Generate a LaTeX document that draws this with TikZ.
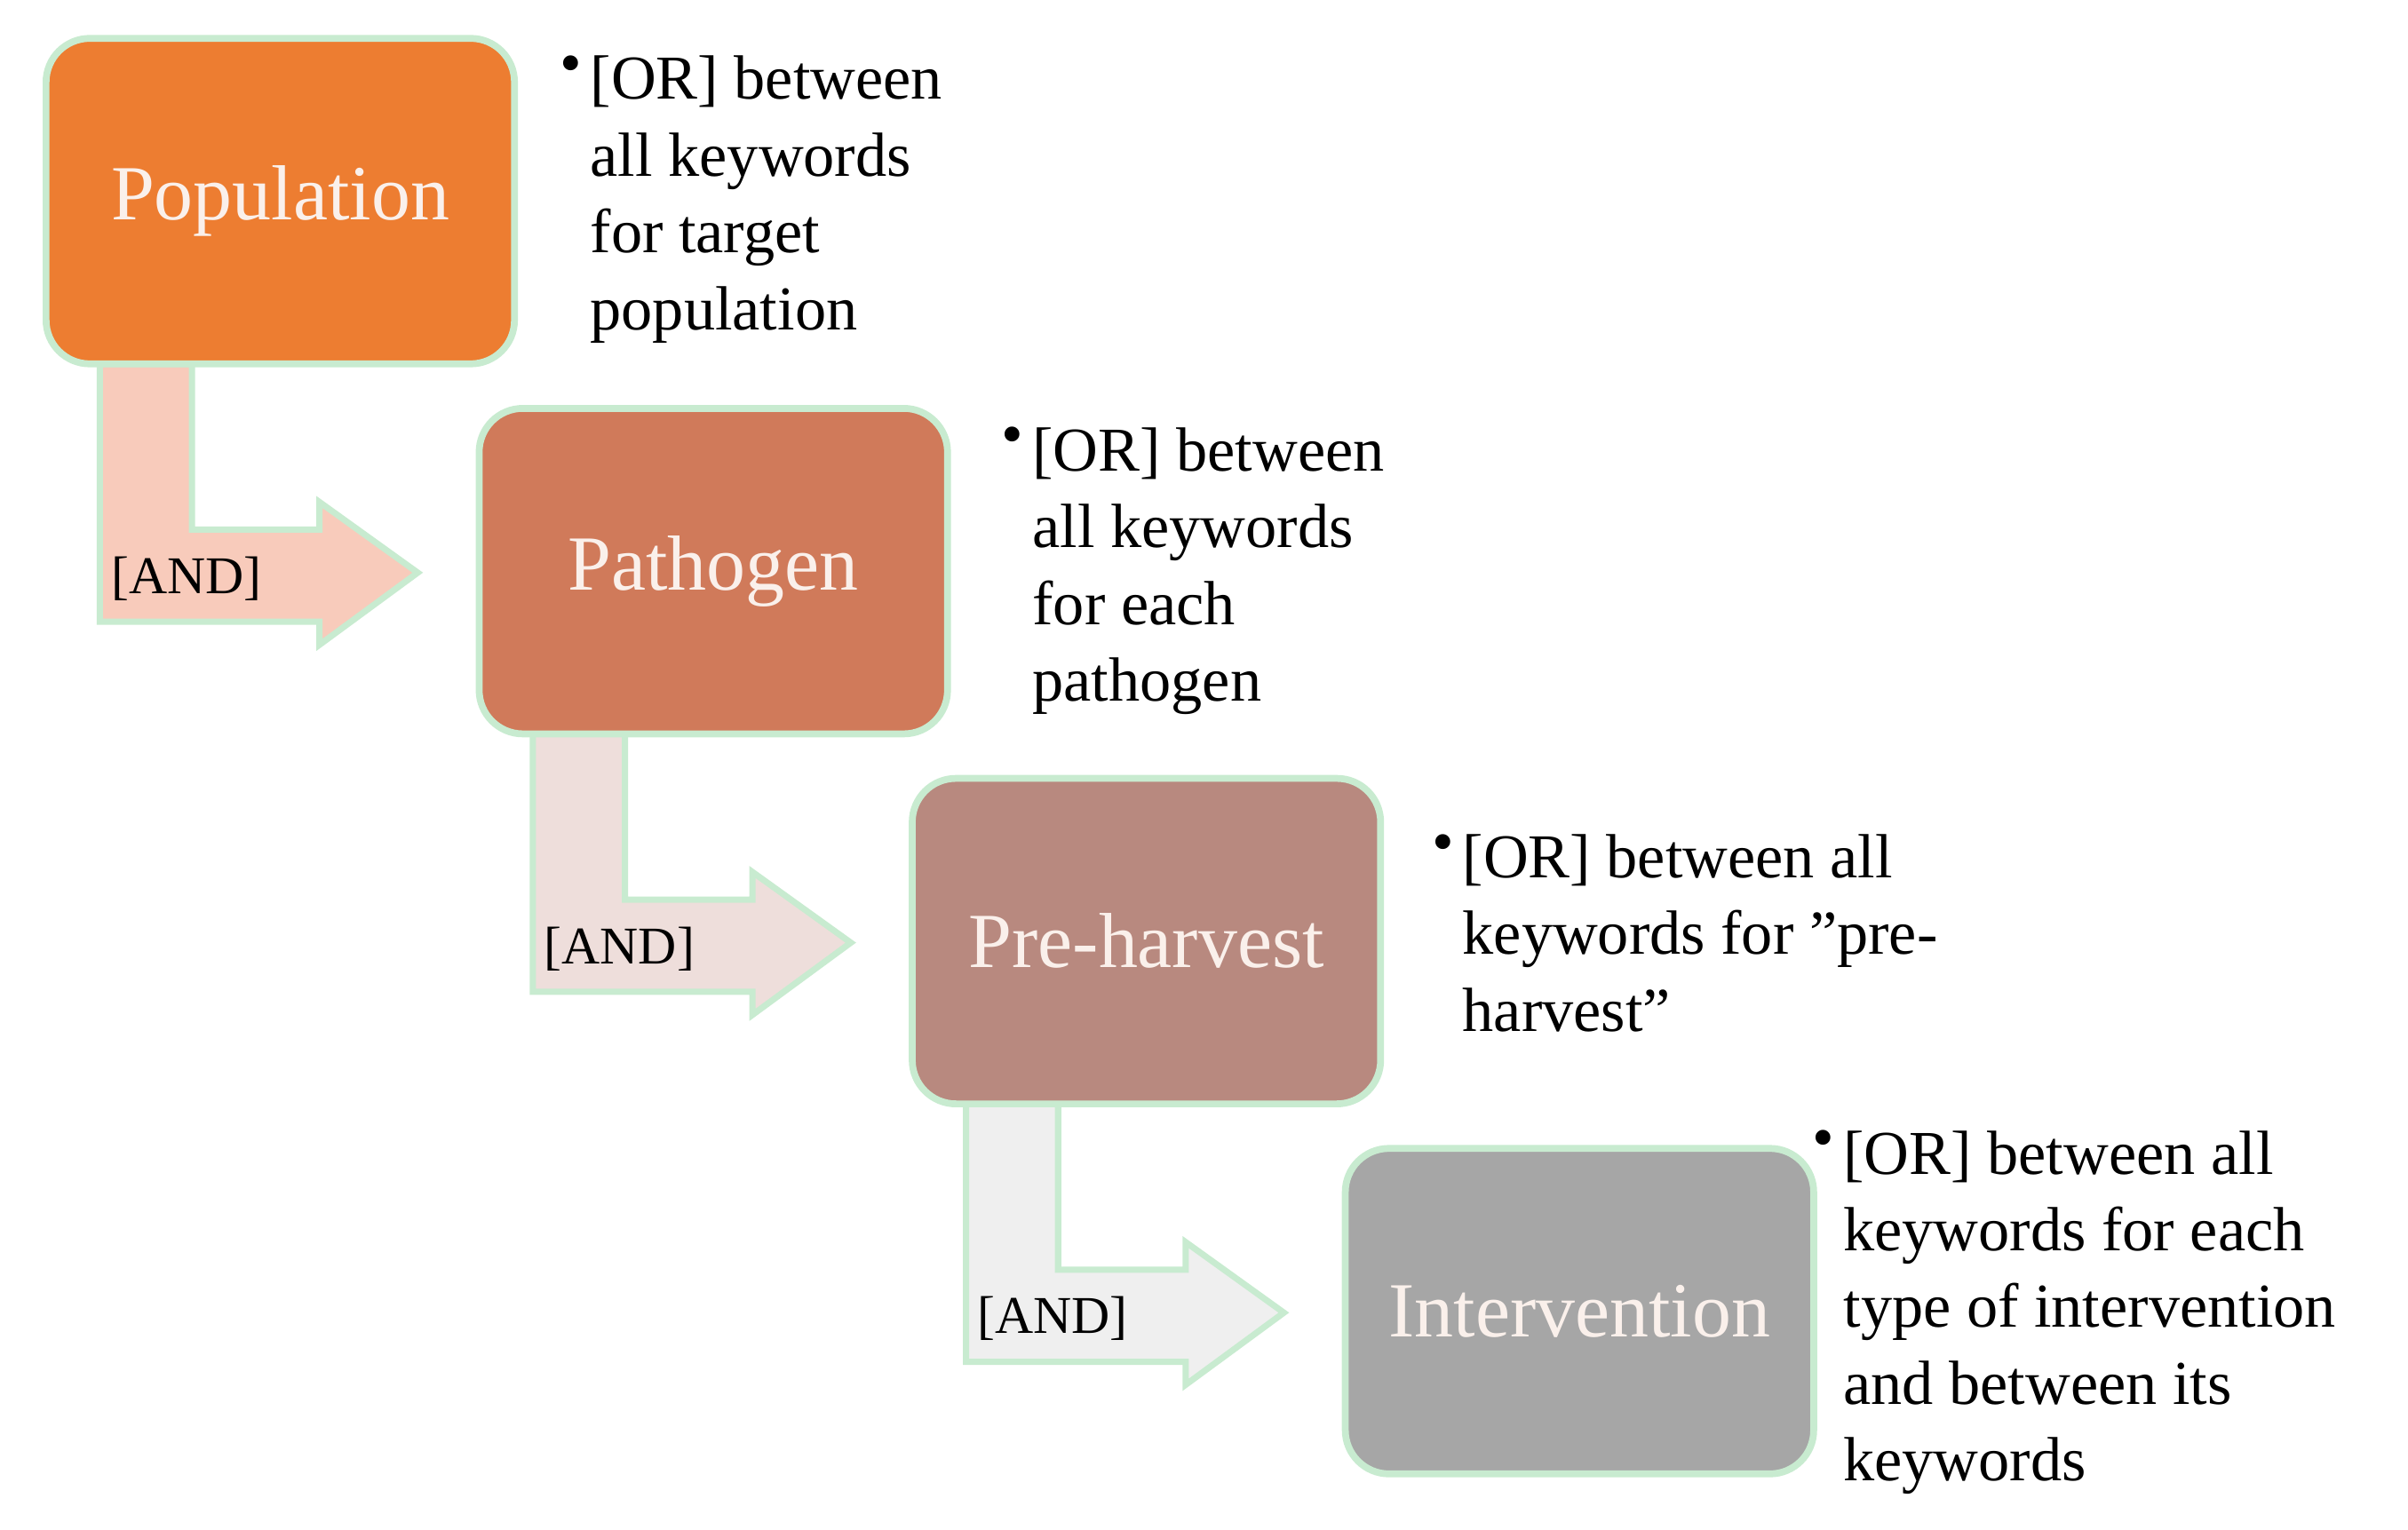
\documentclass[tikz,border=0pt]{standalone}
\usepackage{fontspec}
\setmainfont{Liberation Serif}
\begin{document}
\begin{tikzpicture}[x=0.01729cm,y=-0.01729cm,
  box/.style={draw=green!20!white!85!black!0,draw={rgb,255:red,200;green,235;blue,208},line width=2.2pt,rounded corners=14pt,minimum width=305*0.01729cm,minimum height=212*0.01729cm,text={rgb,255:red,250;green,240;blue,235},font=\fontsize{25}{30}\selectfont},
  desc/.style={anchor=north west,align=left,font=\fontsize{20}{24.6}\selectfont,inner sep=0pt},
  andl/.style={anchor=west,font=\fontsize{17}{20}\selectfont,inner sep=0pt},
  arr/.style={draw={rgb,255:red,200;green,235;blue,208},line width=2pt}]
\useasboundingbox (0,0) rectangle (1568,996);
\definecolor{c1}{RGB}{237,125,49}\definecolor{c2}{RGB}{208,122,90}
\definecolor{c3}{RGB}{184,137,127}\definecolor{c4}{RGB}{166,166,166}
\definecolor{a1}{RGB}{248,203,187}\definecolor{a2}{RGB}{238,222,219}\definecolor{a3}{RGB}{239,239,239}
\foreach \i/\fc/\ac/\lab/\nm in {0/c1/a1/Population/pop,1/c2/a2/Pathogen/pat,2/c3/a3/Pre-harvest/pre,3/c4/a3/Intervention/int}{
  \pgfmathsetmacro\ox{282*\i}\pgfmathsetmacro\oy{241*\i}
  \ifnum\i<3
  \fill[\ac,arr,shift={(\ox,\oy)}] (65,237) -- (125,237) -- (125,345) -- (208,345) -- (208,327) -- (272,373) -- (208,420) -- (208,405) -- (65,405) -- cycle;
  \node[andl,shift={(\ox,\oy)}] (and\i) at (72,377) {[AND]};
  \fi
  \node[box,fill=\fc] (\nm) at (182.5+\ox,131+\oy) {\lab};
}
\node[desc] (d1b) at (364,36) {\textbullet};
\node[desc] (d1) at (384,36) {[OR] between\\all keywords\\for target\\population};
\node[desc] (d2b) at (652,278) {\textbullet};
\node[desc] (d2) at (672,278) {[OR] between\\all keywords\\for each\\pathogen};
\node[desc] (d3b) at (932,543) {\textbullet};
\node[desc] (d3) at (952,543) {[OR] between all\\keywords for "pre-\\harvest"};
\node[desc] (d4b) at (1180,736) {\textbullet};
\node[desc] (d4) at (1200,736) {[OR] between all\\keywords for each\\type of intervention\\and between its\\keywords};
\end{tikzpicture}
\end{document}
